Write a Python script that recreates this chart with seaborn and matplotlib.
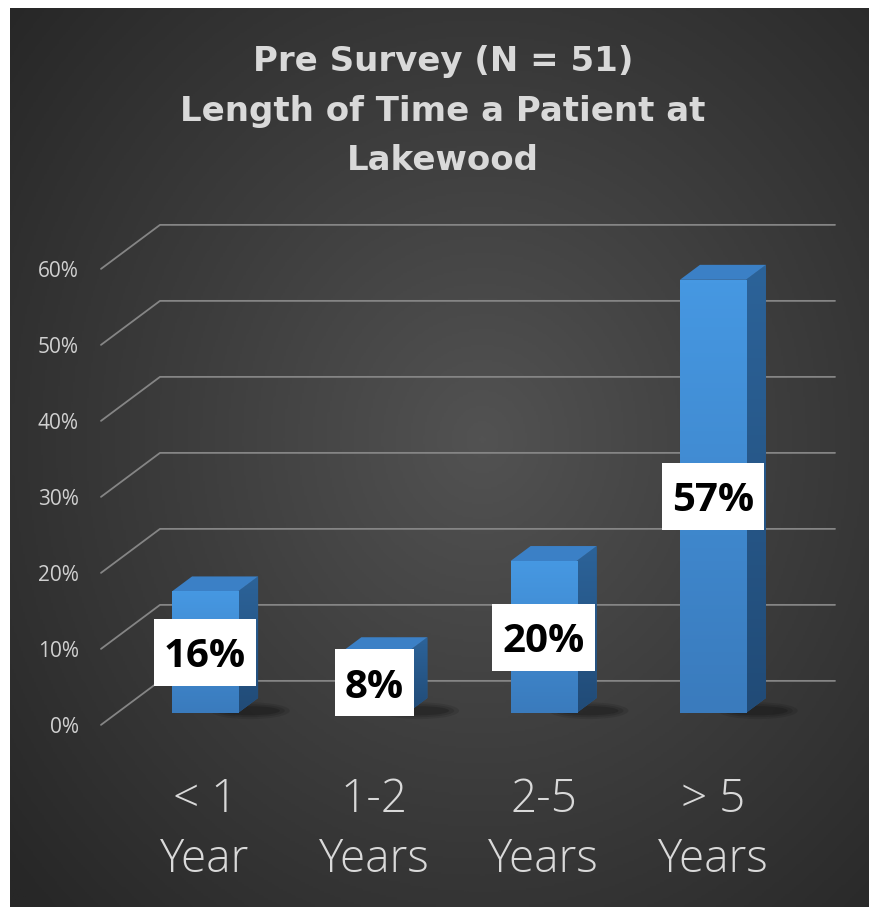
import numpy as np
import pandas as pd
import matplotlib
matplotlib.use("Agg")
import matplotlib.pyplot as plt
from matplotlib.patches import Polygon, Ellipse, Rectangle
from matplotlib.colors import LinearSegmentedColormap
import seaborn as sns

# ---- data -------------------------------------------------------------
categories = ["< 1\nYear", "1-2\nYears", "2-5\nYears", "> 5\nYears"]
shares = [16, 8, 20, 57]                      # percent of respondents
tick_values = [0, 10, 20, 30, 40, 50, 60]
tick_labels = ["0%", "10%", "20%", "30%", "40%", "50%", "60%"]
title_lines = ["Pre Survey (N = 51)", "Length of Time a Patient at", "Lakewood"]

# ---- canvas -----------------------------------------------------------
W, H = 869, 907
fig = plt.figure(figsize=(W / 100, H / 100), dpi=100)
fig.patch.set_facecolor("white")

# dark radial-gradient panel
bg = fig.add_axes([10 / W, 0, 1 - 10 / W, 1 - 8 / H])
bg.set_axis_off()
yy, xx = np.mgrid[0:1:400j, 0:1:400j]
r = np.sqrt(((xx - 0.55) / 1.0) ** 2 + ((yy - 0.52) / 1.05) ** 2)
r = np.clip(r / 0.72, 0, 1)
bg_cmap = LinearSegmentedColormap.from_list("panel", ["#525252", "#3c3c3c", "#272727"])
bg.imshow(r, cmap=bg_cmap, aspect="auto", extent=[0, 1, 0, 1], origin="lower")
bg.set_xlim(0, 1)
bg.set_ylim(0, 1)

# ---- plotting axes in a pixel-calibrated data space --------------------
PX_CAT = 169.3      # pixels per category step
PX_PCT = 7.6        # pixels per percentage point
X0_PX, Y0_PX = 205, 713

ax = fig.add_axes([0, 0, 1, 1])
ax.patch.set_alpha(0)

def px_x(p):
    return (p - X0_PX) / PX_CAT

def depth(d):
    """Oblique offset for a depth d (fraction of full floor depth)."""
    return d * 59 / PX_CAT, d * 44 / PX_PCT

sns.set_style("dark")
df = pd.DataFrame({"category": categories, "share": shares})
sns.barplot(data=df, x="category", y="share", ax=ax, width=0.39,
            color="#4292dc", saturation=1, edgecolor="none", zorder=3)

ax.set_xlim(px_x(0), px_x(W))
ax.set_ylim((Y0_PX - H) / PX_PCT, Y0_PX / PX_PCT)
ax.set_axis_off()

# ---- gridlines: floor-front diagonal + back wall --------------------------
fx, fy = depth(-0.27)
wx, wy = depth(0.73)
x_left = px_x(101 + 0.27 * 59)
x_right = px_x(835 - 0.73 * 59)
for v in tick_values:
    xs = [x_left + fx, x_left + wx, x_right + wx]
    ys = [v + fy, v + wy, v + wy]
    ax.plot(xs, ys, color="#858585", lw=1.3, zorder=1, solid_capstyle="round")

for v, lab in zip(tick_values, tick_labels):
    ax.text(px_x(79), v + fy - 8 / PX_PCT, lab, ha="right", va="baseline",
            fontsize=15, color="#d0d0d0", family="Open Sans")

# ---- 3D bar faces -------------------------------------------------------
dx, dy = depth(0.34)
front_cmap = LinearSegmentedColormap.from_list("front", ["#3a7bbd", "#4698e2"])
side_cmap = LinearSegmentedColormap.from_list("side", ["#214b77", "#2c6399"])
grad = np.linspace(0, 1, 100).reshape(-1, 1)

value_texts = []
for patch, val in zip(ax.patches, shares):
    x0 = patch.get_x()
    w = patch.get_width()
    x1 = x0 + w
    h = patch.get_height()

    # soft floor shadow
    for k, a in enumerate([0.10, 0.12, 0.16]):
        ax.add_patch(Ellipse((x1 + dx * 0.6, 0.3), w * (0.9 - 0.15 * k) + dx,
                             2.2 - 0.5 * k, facecolor="black", alpha=a,
                             edgecolor="none", zorder=2))

    # front face gradient
    im = ax.imshow(grad, cmap=front_cmap, aspect="auto",
                   extent=[x0, x1, 0, h], origin="lower", zorder=3.5)
    im.set_clip_path(patch)

    side = Polygon([(x1, 0), (x1 + dx, dy), (x1 + dx, h + dy), (x1, h)],
                   closed=True, facecolor="#2a5e92", edgecolor="none", zorder=3)
    ax.add_patch(side)
    im2 = ax.imshow(grad, cmap=side_cmap, aspect="auto",
                    extent=[x1, x1 + dx, 0, h + dy], origin="lower", zorder=3.2)
    im2.set_clip_path(side)

    top = Polygon([(x0, h), (x1, h), (x1 + dx, h + dy), (x0 + dx, h + dy)],
                  closed=True, facecolor="#3b80c6", edgecolor="none", zorder=3.3)
    ax.add_patch(top)

    # value label centred on the front face
    t = ax.text(x0 + w / 2, h / 2, f"{val}%", ha="center", va="center_baseline",
                fontsize=29, fontweight="bold", color="black", family="Open Sans",
                zorder=6)
    value_texts.append((t, x0 + w / 2, h / 2))

# white label boxes sized around the rendered text
fig.canvas.draw()
renderer = fig.canvas.get_renderer()
for t, cx, cy in value_texts:
    bb = t.get_window_extent(renderer)
    box_w = (bb.width + 20) / PX_CAT
    box_h = 67 / PX_PCT
    ax.add_patch(Rectangle((cx - box_w / 2, cy - box_h / 2), box_w, box_h,
                           facecolor="white", edgecolor="none", zorder=5))

# ---- category labels -----------------------------------------------------
for i, cat in enumerate(categories):
    ax.text(i, (Y0_PX - 830) / PX_PCT, cat, ha="center", va="center",
            fontsize=33, color="#d9d9d9", family="Open Sans", fontweight="light",
            linespacing=1.42)

# ---- title -----------------------------------------------------------
for line, ypx in zip(title_lines, [62, 111, 160]):
    fig.text(443 / W, 1 - ypx / H, line, ha="center", va="center",
             fontsize=24.5, fontweight="bold", color="#d9d9d9",
             family="DejaVu Sans")

fig.savefig("out.png", dpi=100)
